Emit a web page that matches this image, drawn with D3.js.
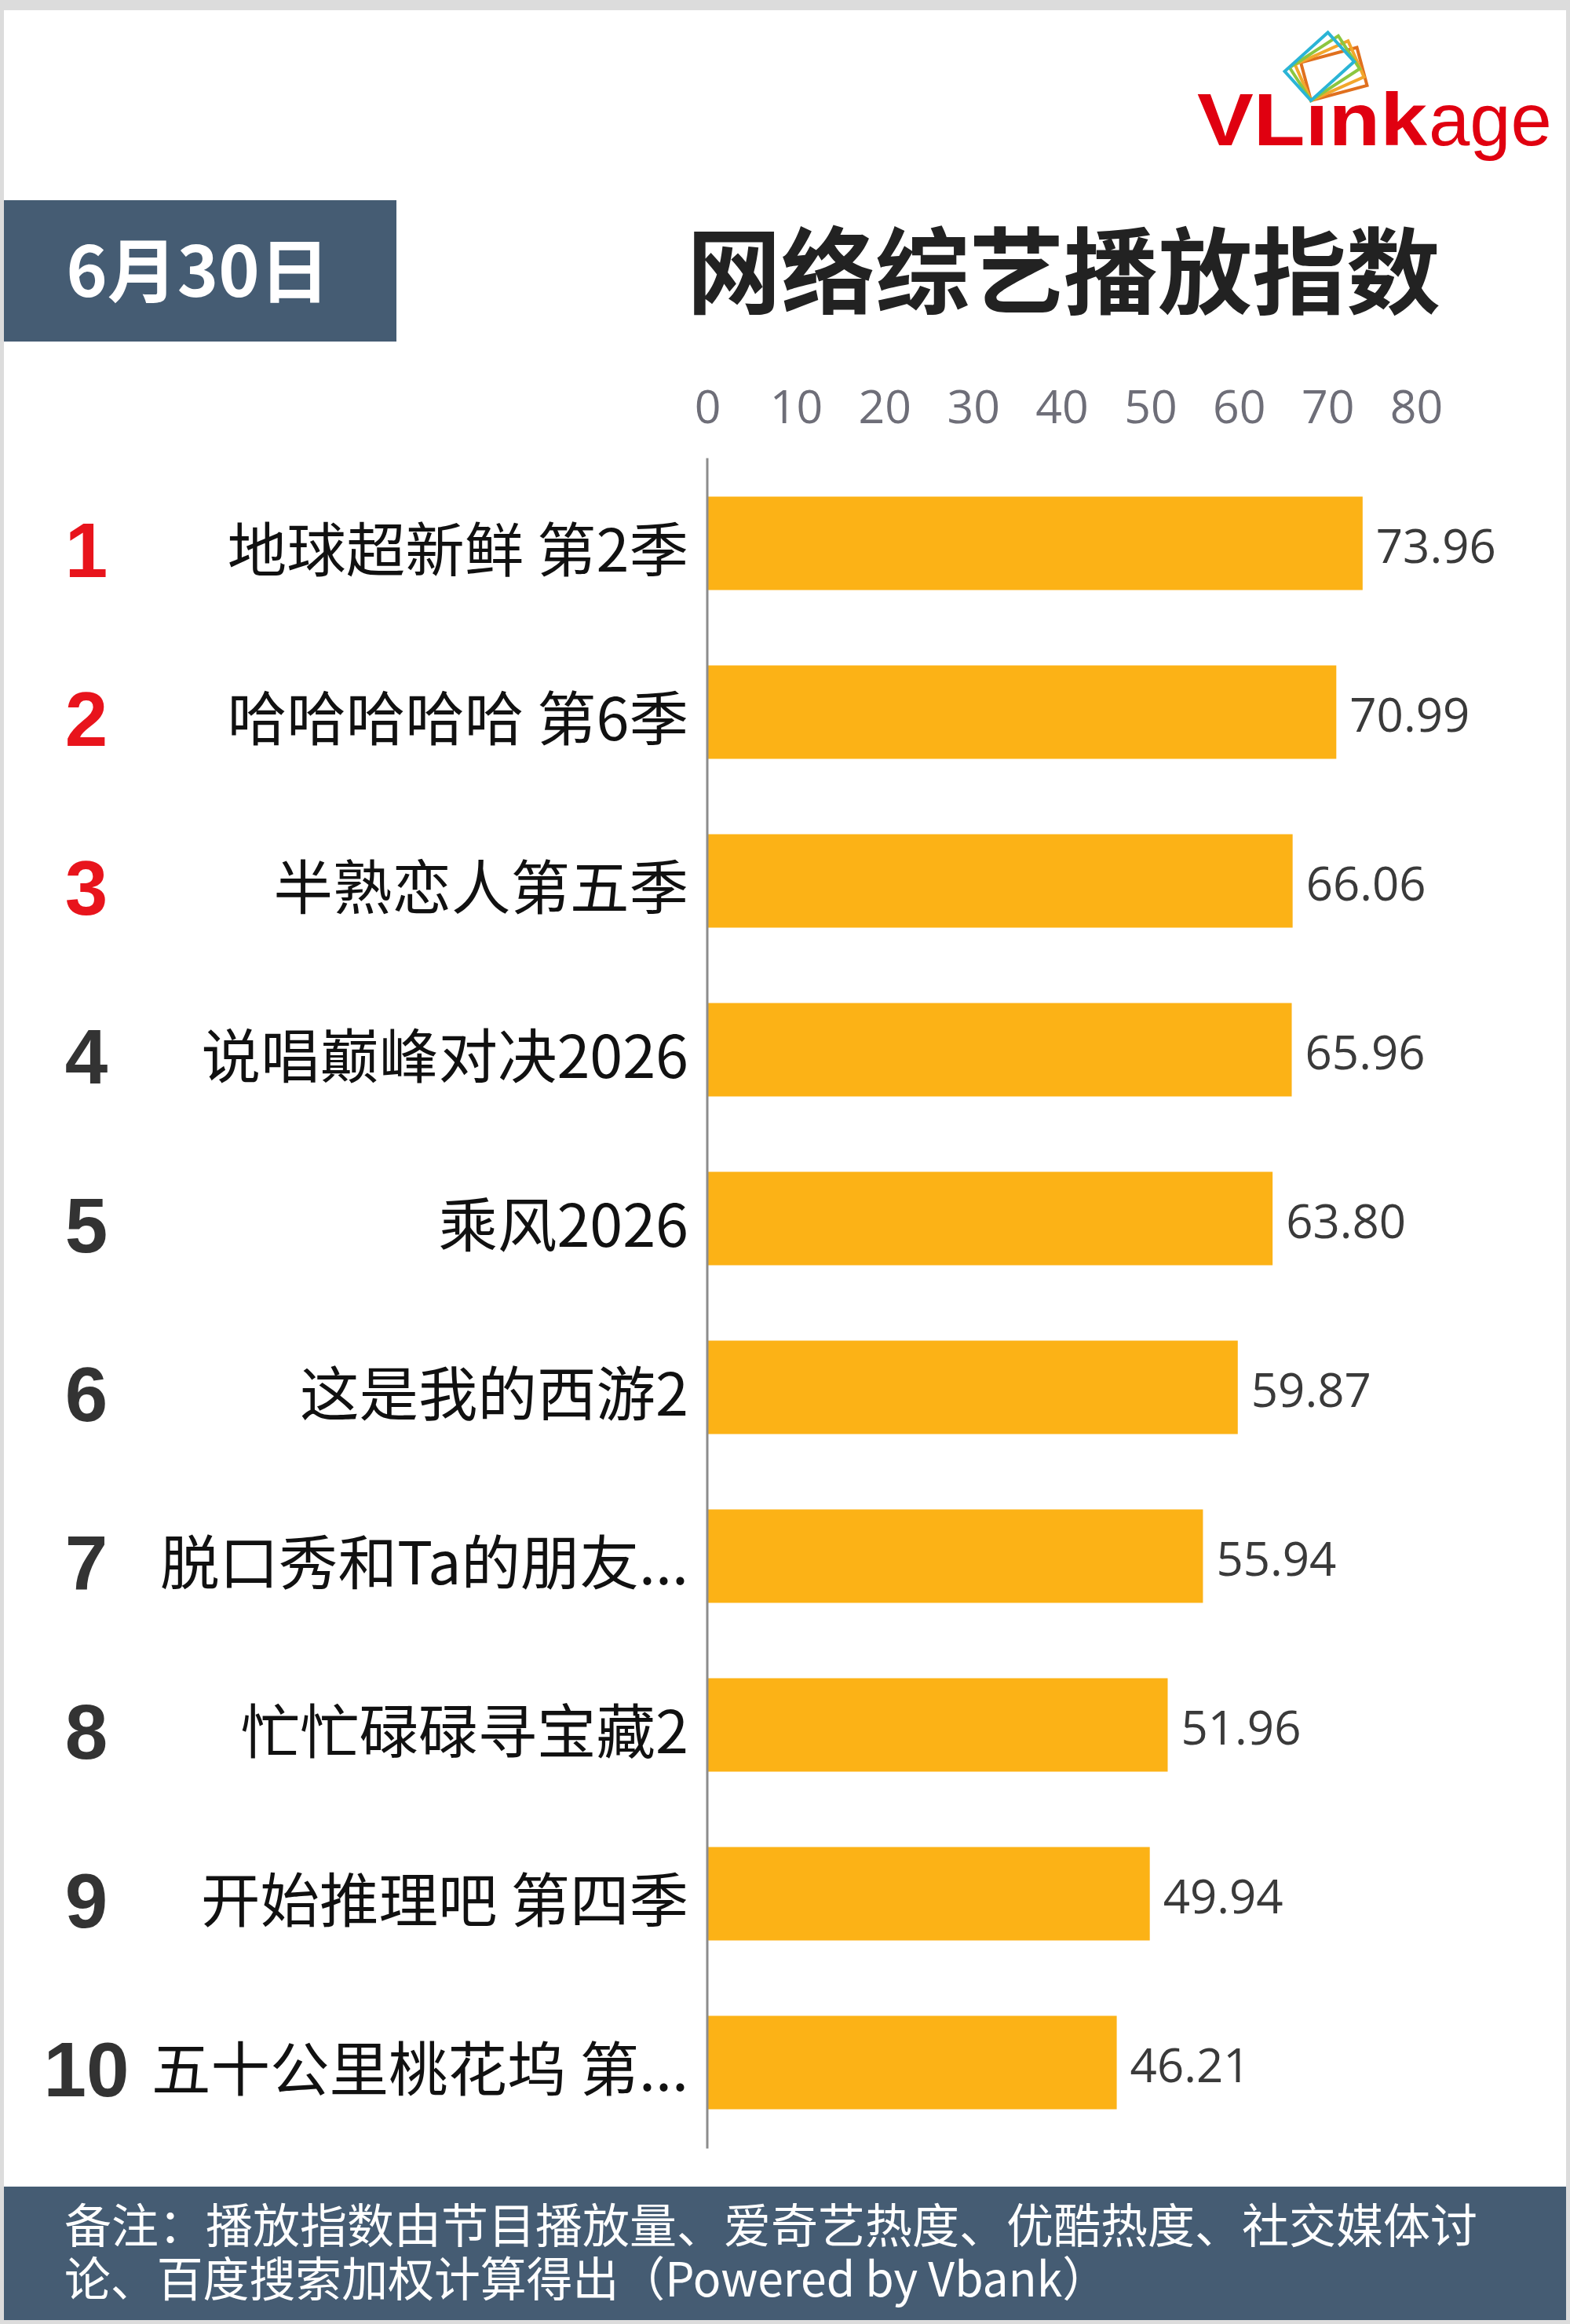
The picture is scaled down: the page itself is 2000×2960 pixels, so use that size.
<!DOCTYPE html>
<html>
<head>
<meta charset="utf-8">
<script src="https://cdn.jsdelivr.net/npm/d3@7"></script>
<style>
  html, body { margin: 0; padding: 0; background: #dcdcdc; }
  svg { display: block; }
  .tick text { font-family: "Open Sans", "Noto Sans", sans-serif; font-size: 59px; fill: #6e6e78; }
</style>
</head>
<body>
<div id="chart"></div>
<script>
// chart data
var ranks = [1, 2, 3, 4, 5, 6, 7, 8, 9, 10]
var shows = ["地球超新鲜 第2季", "哈哈哈哈哈 第6季", "半熟恋人第五季", "说唱巅峰对决2026", "乘风2026",
    "这是我的西游2", "脱口秀和Ta的朋友...", "忙忙碌碌寻宝藏2", "开始推理吧 第四季", "五十公里桃花坞 第..."]
var values = [73.96, 70.99, 66.06, 65.96, 63.80, 59.87, 55.94, 51.96, 49.94, 46.21]
var tickValues = [0, 10, 20, 30, 40, 50, 60, 70, 80]

var width = 2000
var height = 2960
var CJK = '"Noto Sans CJK SC", "Noto Sans", sans-serif'

var svg = d3.select("#chart")
    .append("svg")
    .attr("width", width)
    .attr("height", height)

// page with grey frame
svg.append("rect")
    .attr("x", 0).attr("y", 0)
    .attr("width", width).attr("height", height)
    .attr("fill", "#dcdcdc")
svg.append("rect")
    .attr("x", 5).attr("y", 13)
    .attr("width", width - 10).attr("height", height - 18)
    .attr("fill", "#ffffff")

// logo
var logo = svg.append("g")
var frameColors = ["#e0701e", "#f2a72c", "#8cc63f", "#2ab4d6"]
var frameAngles = [-15, -24, -33, -42]
logo.selectAll("rect.frame")
    .data(frameColors)
    .enter().append("rect")
    .attr("class", "frame")
    .attr("x", 0).attr("y", -50)
    .attr("width", 74).attr("height", 50)
    .attr("fill", "none")
    .attr("stroke", function (d) { return d })
    .attr("stroke-width", 4)
    .attr("transform", function (d, i) {
        return "translate(1670,128) rotate(" + frameAngles[i] + ")"
    })

logo.append("text")
    .text("VLınk")
    .attr("x", 1525).attr("y", 185)
    .attr("textLength", 293)
    .attr("lengthAdjust", "spacingAndGlyphs")
    .style("font-family", '"Liberation Sans", Arial, sans-serif')
    .style("font-weight", "bold")
    .style("font-size", "94px")
    .style("fill", "#e00010")
logo.append("text")
    .text("age")
    .attr("x", 1820).attr("y", 185)
    .style("font-family", '"Liberation Sans", Arial, sans-serif')
    .style("font-size", "94px")
    .style("fill", "#e00010")

// date box
svg.append("rect")
    .attr("x", 5).attr("y", 255)
    .attr("width", 500).attr("height", 180)
    .attr("fill", "#455c73")
svg.append("text")
    .text("6月30日")
    .attr("x", 252).attr("y", 378)
    .attr("text-anchor", "middle")
    .style("font-family", CJK)
    .style("font-weight", "bold")
    .style("font-size", "89px")
    .style("fill", "#ffffff")

// title
svg.append("text")
    .text("网络综艺播放指数")
    .attr("x", 1355).attr("y", 391)
    .attr("text-anchor", "middle")
    .style("font-family", CJK)
    .style("font-weight", "bold")
    .style("font-size", "120px")
    .style("fill", "#222222")

// scales
var x = d3.scaleLinear()
    .domain([0, 80])
    .range([901, 1804])

var y = d3.scaleBand()
    .domain(ranks)
    .range([584.5, 584.5 + 215 * ranks.length])
    .paddingInner(0.4465)
    .paddingOuter(0.2233)

// top axis labels
var axis = svg.append("g")
    .attr("transform", "translate(0,539)")
    .call(d3.axisTop(x).tickValues(tickValues).tickSize(0).tickPadding(0))
axis.select(".domain").remove()
axis.selectAll(".tick text").attr("dy", 0)

// bars
svg.selectAll("rect.bar")
    .data(values)
    .enter().append("rect")
    .attr("class", "bar")
    .attr("x", x(0))
    .attr("y", function (d, i) { return y(ranks[i]) })
    .attr("width", function (d) { return x(d) - x(0) })
    .attr("height", y.bandwidth())
    .attr("fill", "#fcb216")

// vertical axis line
svg.append("line")
    .attr("x1", x(0)).attr("x2", x(0))
    .attr("y1", y.range()[0] - 1)
    .attr("y2", y.range()[1] + 2)
    .attr("stroke", "#8c8c8c")
    .attr("stroke-width", 3)

// value labels
svg.selectAll("text.value")
    .data(values)
    .enter().append("text")
    .attr("class", "value")
    .text(function (d) { return d.toFixed(2) })
    .attr("x", function (d) { return x(d) + 17 })
    .attr("y", function (d, i) { return y(ranks[i]) + y.bandwidth() / 2 + 25 })
    .style("font-family", '"Open Sans", "Noto Sans", sans-serif')
    .style("font-size", "60px")
    .style("fill", "#3a3a3a")

// rank numbers
svg.selectAll("text.rank")
    .data(ranks)
    .enter().append("text")
    .attr("class", "rank")
    .text(function (d) { return d })
    .attr("x", 110)
    .attr("y", function (d) { return y(d) + y.bandwidth() / 2 + 43 })
    .attr("text-anchor", "middle")
    .style("font-family", '"Liberation Sans", Arial, sans-serif')
    .style("font-weight", "bold")
    .style("font-size", "98px")
    .style("fill", function (d) { return d <= 3 ? "#e8141c" : "#333333" })

// show names
svg.selectAll("text.show")
    .data(shows)
    .enter().append("text")
    .attr("class", "show")
    .text(function (d) { return d })
    .attr("x", 877)
    .attr("y", function (d, i) { return y(ranks[i]) + y.bandwidth() / 2 + 36 })
    .attr("text-anchor", "end")
    .style("font-family", CJK)
    .style("font-size", "75.5px")
    .style("fill", "#111111")

// footer note
svg.append("rect")
    .attr("x", 5).attr("y", 2785)
    .attr("width", width - 10).attr("height", 170)
    .attr("fill", "#455c73")

var note = ["备注：播放指数由节目播放量、爱奇艺热度、优酷热度、社交媒体讨",
    "论、百度搜索加权计算得出（Powered by Vbank）"]
svg.selectAll("text.note")
    .data(note)
    .enter().append("text")
    .attr("class", "note")
    .text(function (d) { return d })
    .attr("x", 82)
    .attr("y", function (d, i) { return 2857 + i * 68 })
    .attr("textLength", function (d, i) { return i == 1 ? 1330 : null })
    .attr("lengthAdjust", "spacingAndGlyphs")
    .style("font-family", CJK)
    .style("font-size", "60px")
    .style("fill", "#ffffff")
</script>
</body>
</html>
